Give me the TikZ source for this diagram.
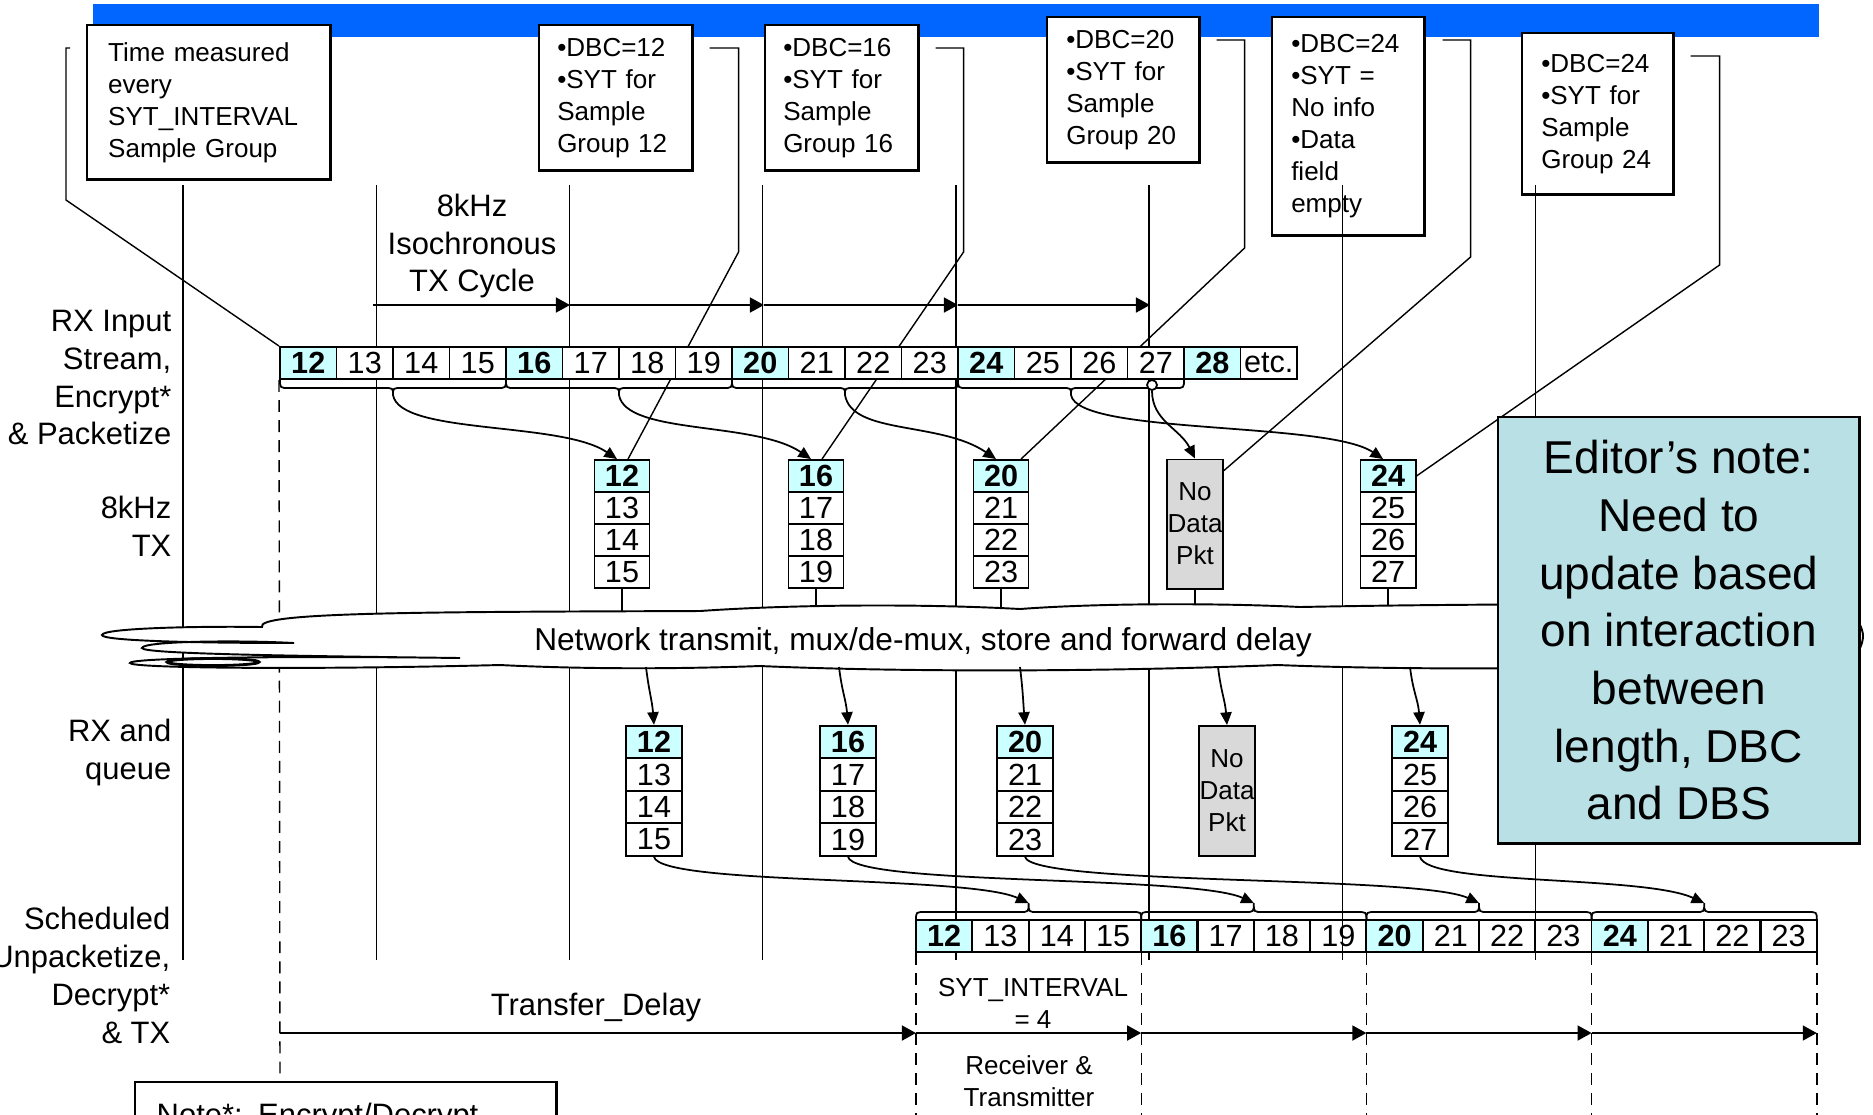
\documentclass[tikz,border=0pt]{standalone}
\usepackage{fontspec}
\setmainfont{Liberation Sans}
\usetikzlibrary{arrows.meta,calc,backgrounds}

\definecolor{barblue}{RGB}{0,102,255}
\definecolor{cellcyan}{RGB}{204,255,255}
\definecolor{pktgray}{RGB}{217,217,217}
\definecolor{notecyan}{RGB}{185,224,229}

\providecommand{\boxfontsize}{\fontsize{7.4}{9.1}\selectfont}
\providecommand{\labelfontsize}{\fontsize{8.8}{10.8}\selectfont}
\providecommand{\cellfontsize}{\fontsize{8.7}{10}\selectfont}
\providecommand{\notefontsize}{\fontsize{13.1}{16.4}\selectfont}

\tikzset{
  callbox/.style={draw, line width=0.7pt, fill=white, anchor=north west, align=left, inner ysep=0, font=\boxfontsize},
  cell/.style={draw, line width=0.55pt, fill=white, minimum width=0.565cm, minimum height=0.32cm, inner sep=0, font=\cellfontsize},
  hcell/.style={cell, fill=cellcyan, font=\cellfontsize\bfseries},
  pcell/.style={minimum width=0.55cm},
  rcell/.style={minimum width=0.56cm, minimum height=0.325cm},
  nodata/.style={draw, line width=0.55pt, fill=pktgray, minimum width=0.56cm, minimum height=1.29cm, inner sep=0, align=center, font=\boxfontsize},
  rowlabel/.style={anchor=east, align=right, inner sep=0, font=\labelfontsize},
  gridline/.style={line width=0.4pt},
  bracepath/.style={line width=0.5pt},
  cycarrow/.style={line width=0.7pt, -{Triangle[length=4pt,width=4.2pt]}},
  feed/.style={line width=0.5pt, -{Triangle[length=3.6pt,width=3.2pt]}},
}

\begin{document}
\begin{tikzpicture}[x=0.01cm, y=-0.01cm]
    \useasboundingbox (0,0) rectangle (1873,1114);
    \clip (0,0) rectangle (1873,1114);

    % RX input stream
    \foreach \i in {0,...,16} {
        \pgfmathtruncatemacro{\n}{12+\i}
        \pgfmathtruncatemacro{\hl}{mod(\i,4)}
        \ifnum\hl=0
            \node[hcell] (in\n) at (308.25+56.5*\i,363) {\n};
        \else
            \node[cell] (in\n) at (308.25+56.5*\i,363) {\n};
        \fi
    }
    \node[cell] (inetc) at (308.25+56.5*17,363) {etc.};

    % 8kHz TX packets
    \foreach \g/\x in {12/622,16/816,20/1001,24/1388} {
        \node[hcell,pcell] (tx\g-0) at (\x,476) {\g};
        \foreach \k in {1,2,3} {
            \pgfmathtruncatemacro{\n}{\g+\k}
            \node[cell,pcell] (tx\g-\k) at (\x,476+32*\k) {\n};
        }
    }
    \node[nodata] (txnd) at (1195,524) {No\\Data\\Pkt};

    % RX and queue packets
    \foreach \g/\x in {12/654,16/848,20/1025,24/1420} {
        \node[hcell,rcell] (rx\g-0) at (\x,742) {\g};
        \foreach \k in {1,2,3} {
            \pgfmathtruncatemacro{\n}{\g+\k}
            \node[cell,rcell] (rx\g-\k) at (\x,742+32.5*\k) {\n};
        }
    }
    \node[nodata, minimum height=1.30cm] (rxnd) at (1227,791) {No\\Data\\Pkt};

    % scheduled output stream
    \foreach \n [count=\i from 0] in {12,13,...,24,21,22,23} {
        \pgfmathtruncatemacro{\hl}{mod(\i,4)}
        \ifnum\hl=0
            \node[hcell] (out\i) at (944.15+56.3*\i,936) {\n};
        \else
            \node[cell, fill=none] (out\i) at (944.15+56.3*\i,936) {\n};
        \fi
    }

    % braces under the input groups
    \foreach \g [count=\j from 0] in {12,16,20,24} {
        \pgfmathsetmacro{\xl}{280+226*\j}
        \pgfmathsetmacro{\xm}{\xl+113}
        \pgfmathsetmacro{\xr}{\xl+226}
        \draw[bracepath] (\xl,379) .. controls (\xl,388) .. (\xl+9,388) -- (\xm-9,388)
            .. controls (\xm,388) .. (\xm,395) .. controls (\xm,388) .. (\xm+9,388)
            -- (\xr-9,388) .. controls (\xr,388) .. (\xr,379);
        \coordinate (bi\g) at (\xm,395);
    }
    % braces over the output groups
    \foreach \j in {0,...,3} {
        \pgfmathsetmacro{\xl}{916+225.2*\j}
        \pgfmathsetmacro{\xm}{\xl+112.6}
        \pgfmathsetmacro{\xr}{\xl+225.2}
        \draw[bracepath] (\xl,920) .. controls (\xl,912) .. (\xl+9,912) -- (\xm-9,912)
            .. controls (\xm,912) .. (\xm,903) .. controls (\xm,912) .. (\xm+9,912)
            -- (\xr-9,912) .. controls (\xr,912) .. (\xr,920);
        \coordinate (bo\j) at (\xm,903);
    }

    % network cloud
    \draw[line width=0.55pt, fill=white] (262,627)
        .. controls (255,612) and (420,612) .. (700,611)
        .. controls (800,604) and (930,604) .. (1020,609)
        .. controls (1100,603) and (1220,603) .. (1300,607)
        .. controls (1500,603) and (1800,603) .. (1845,610)
        .. controls (1858,615) and (1863,630) .. (1863,636)
        .. controls (1863,645) and (1856,660) .. (1845,662)
        .. controls (1600,670) and (1400,670) .. (1278,665)
        .. controls (1100,672) and (900,672) .. (760,666)
        .. controls (650,670) and (560,668) .. (500,665)
        .. controls (300,670) and (130,668) .. (130,663)
        .. controls (130,657) and (320,656) .. (460,658)
        .. controls (300,656) and (142,654) .. (142,648)
        .. controls (142,641) and (240,640) .. (294,643)
        .. controls (200,643) and (102,641) .. (102,635)
        .. controls (102,628) and (200,626) .. (262,627) -- cycle;
    \draw[line width=0.8pt] (213,662) ellipse [x radius=0.46cm, y radius=0.035cm];
    \node[font=\fontsize{9}{11}\selectfont] (net) at (923,642) {Network transmit, mux/de-mux, store and forward delay};

    % row labels
    \node[rowlabel] (lblrx) at (172,377.5) {RX Input\\Stream,\\Encrypt*\\\& Packetize};
    \node[rowlabel] (lbltx) at (172,526.5) {8kHz\\TX};
    \node[rowlabel] (lblq) at (172,752.5) {RX and\\queue};
    \node[rowlabel] (lblsch) at (171,975.7) {Scheduled\\Unpacketize,\\Decrypt*\\\& TX};

    % isochronous cycle
    \node[font=\labelfontsize, align=center] (cyclbl) at (472,246) {8kHz\\Isochronous\\TX Cycle};
    \foreach \x [count=\i from 0] in {373,570,764,958,1150}
        \coordinate (cy\i) at (\x,305);
    \foreach \a/\b in {0/1,1/2,2/3,3/4}
        \draw[cycarrow] (cy\a) -- (cy\b);

    % packetizing
    \foreach \g in {12,16,20,24}
        \draw[feed] (bi\g) .. controls +(7,40) and +(-56,-38) .. ([xshift=-0.05cm]tx\g-0.north);
    \node[circle, draw, line width=0.5pt, fill=white, inner sep=0, minimum size=0.1cm] (c27) at (1152,385) {};
    \draw[feed] (c27.south) .. controls +(0,30) and +(-15,-30) .. (txnd.north);

    % network to receiver
    \foreach \g/\x in {12/646,16/839,20/1020,24/1410} {
        \coordinate (cb\g) at (\x,667);
        \draw[feed] (cb\g) .. controls +(3,25) and +(-2,-25) .. (rx\g-0.north);
    }
    \coordinate (cbnd) at (1218,667);
    \draw[feed] (cbnd) .. controls +(3,25) and +(-2,-25) .. (rxnd.north);

    % unpacketizing
    \foreach \g [count=\j from 0] in {12,16,20,24}
        \draw[feed] (rx\g-3.south) .. controls +(6,29) and +(-61,-28) .. (bo\j);

    % transfer delay and SYT intervals
    \coordinate (td) at (280,1033);
    \foreach \i in {0,...,4}
        \coordinate (dl\i) at (916+225.2*\i,1033);
    \draw[cycarrow] (td) -- (dl0);
    \foreach \a/\b in {0/1,1/2,2/3,3/4}
        \draw[cycarrow] (dl\a) -- (dl\b);
    \node[font=\labelfontsize] (tdlbl) at (596,1007) {Transfer\_Delay};
    \node[font=\boxfontsize, align=center] (sytlbl) at (1033,1003) {SYT\_INTERVAL\\= 4};
    \node[font=\boxfontsize, align=center] (rxtxlbl) at (1029,1081) {Receiver \&\\Transmitter};

    % editor's note
    \node[draw, line width=0.7pt, fill=notecyan, anchor=north west, minimum width=3.61cm, minimum height=4.26cm,
          align=center, inner sep=0, font=\notefontsize] (ednote) at (1497,416)
          {Editor’s note:\\Need to\\update based\\on interaction\\between\\length, DBC\\and DBS};

    % footnote box
    \node[anchor=north west, inner xsep=0.21cm, inner ysep=0.2cm, text width=3.78cm, align=left,
          font=\labelfontsize] (notebox) at (135,1082) {Note*: Encrypt/Decrypt};
    \draw[line width=0.7pt] (notebox.north west) rectangle ($(notebox.south east)+(0,80)$);

    \begin{pgfonlayer}{background}
        \fill[barblue] (93,4) rectangle (1819,37);
        % callout boxes
        \node[callbox, minimum width=2.43cm, minimum height=1.54cm, text width=2.01cm, inner xsep=0.21cm] (tbox) at (86,24)
            {Time measured\\every\\SYT\_INTERVAL\\Sample Group};
        \node[callbox, minimum width=1.53cm, minimum height=1.45cm, text width=1.17cm, inner xsep=0.18cm] (dbc12) at (538,24)
            {•DBC=12\\•SYT for\\Sample\\Group 12};
        \node[callbox, minimum width=1.53cm, minimum height=1.45cm, text width=1.17cm, inner xsep=0.18cm] (dbc16) at (764,24)
            {•DBC=16\\•SYT for\\Sample\\Group 16};
        \node[callbox, minimum width=1.52cm, minimum height=1.45cm, text width=1.14cm, inner xsep=0.19cm] (dbc20) at (1046,16)
            {•DBC=20\\•SYT for\\Sample\\Group 20};
        \node[callbox, minimum width=1.52cm, minimum height=2.18cm, text width=1.14cm, inner xsep=0.19cm] (dbc24a) at (1271,16)
            {•DBC=24\\•SYT =\\No info\\•Data\\field\\empty};
        \node[callbox, minimum width=1.51cm, minimum height=1.61cm, text width=1.13cm, inner xsep=0.19cm] (dbc24b) at (1521,32)
            {•DBC=24\\•SYT for\\Sample\\Group 24};
        % time grid
        \foreach \i in {0,...,7}
            \draw[gridline] (183+193.2*\i,185) -- (183+193.2*\i,960);
        % callout lines
        \coordinate (ct) at (70,48);
        \draw[gridline] (ct) -- (66,48) -- (66,200) -- (in12.north west);
        \draw[gridline] ($(dbc12.north east)+(16,24)$) -| ++(29,204) -- ([xshift=0.06cm]tx12-0.north);
        \draw[gridline] ($(dbc16.north east)+(16,24)$) -| ++(28,204) -- ([xshift=0.06cm]tx16-0.north);
        \draw[gridline] ($(dbc20.north east)+(16,24)$) -| ++(28,208) -- ([xshift=0.2cm]tx20-0.north);
        \draw[gridline] ($(dbc24a.north east)+(17,24)$) -| ++(28,217) -- ($(txnd.north east)+(0,12)$);
        \draw[gridline] ($(dbc24b.north east)+(16,24)$) -| ++(29,209) -- (tx24-0.east);
        % dashed time marks
        \draw[gridline, dash pattern=on 3.4pt off 2.3pt] (in12.south west) -- (280,1082);
        \foreach \i in {0,...,4}
            \draw[gridline, dash pattern=on 3.4pt off 2.3pt] (dl\i |- out0.south) -- ++(0,200);
        % packets into the network
        \foreach \g in {12,16,20,24}
            \draw[gridline] (tx\g-3.south) -- ++(0,25);
        \draw[gridline] (txnd.south) -- ++(0,25);
    \end{pgfonlayer}
\end{tikzpicture}
\end{document}
